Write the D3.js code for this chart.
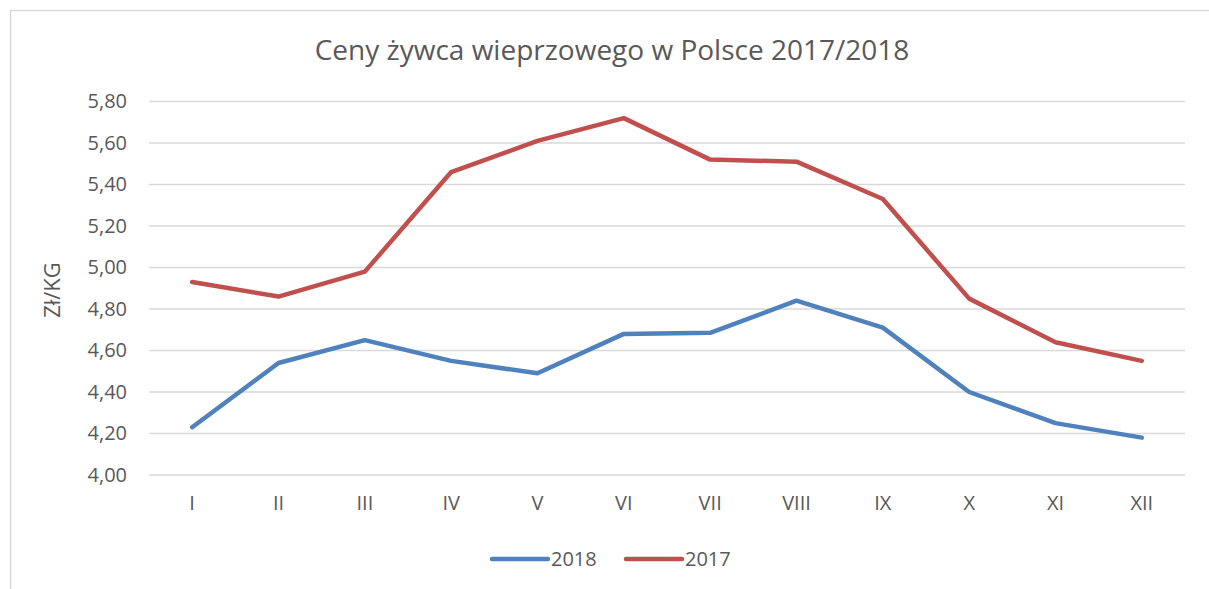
<!DOCTYPE html>
<html>
<head>
<meta charset="utf-8">
<script src="https://cdn.jsdelivr.net/npm/d3@7"></script>
<style>
  body { margin: 0; background: #fff; }
  svg text { font-family: "Open Sans", "Liberation Sans", sans-serif; fill: #595959; }
</style>
</head>
<body>
<div id="chart"></div>
<script>
// data
const months = ["I", "II", "III", "IV", "V", "VI", "VII", "VIII", "IX", "X", "XI", "XII"];
const prices2018 = [4.23, 4.54, 4.65, 4.55, 4.49, 4.68, 4.685, 4.84, 4.71, 4.40, 4.25, 4.18];
const prices2017 = [4.93, 4.86, 4.98, 5.46, 5.61, 5.72, 5.52, 5.51, 5.33, 4.85, 4.64, 4.55];
const yTicks = [4.0, 4.2, 4.4, 4.6, 4.8, 5.0, 5.2, 5.4, 5.6, 5.8];

const series = [
    { name: "2018", values: prices2018, color: "#4F81BD" },
    { name: "2017", values: prices2017, color: "#C0504D" }
];

const W = 1209, H = 589;
const margin = { top: 101.5, right: 24, bottom: 114, left: 149 };
const width = W - margin.left - margin.right;
const height = H - margin.top - margin.bottom;

const svg = d3.select("#chart").append("svg")
    .attr("width", W)
    .attr("height", H);

// chart frame (only top and left edges are visible in the crop)
svg.append("path")
    .attr("d", `M10.5,${H} V10.5 H${W}`)
    .attr("fill", "none")
    .attr("stroke", "#d9d9d9")
    .attr("stroke-width", 1.5);

svg.append("text")
    .attr("x", 612).attr("y", 60)
    .attr("text-anchor", "middle")
    .attr("font-size", 28)
    .text("Ceny żywca wieprzowego w Polsce 2017/2018");

const g = svg.append("g")
    .attr("transform", `translate(${margin.left},${margin.top})`);

const x = d3.scaleBand().domain(months).range([0, width]);
const y = d3.scaleLinear().domain([4.0, 5.8]).range([height, 0]);

// gridlines
g.append("g")
    .selectAll("line")
    .data(yTicks)
    .join("line")
    .attr("x1", 0).attr("x2", width)
    .attr("y1", d => y(d)).attr("y2", d => y(d))
    .attr("stroke", "#d9d9d9")
    .attr("stroke-width", 1.3);

const fmt = d => d.toFixed(2).replace(".", ",");

const yAxis = g.append("g")
    .call(d3.axisLeft(y).tickValues(yTicks).tickFormat(fmt).tickSize(0).tickPadding(22));
yAxis.select(".domain").remove();
yAxis.selectAll("text").attr("font-size", 20).attr("fill", "#595959")
    .style("font-family", "'Open Sans', sans-serif");

const xAxis = g.append("g")
    .attr("transform", `translate(0,${height})`)
    .call(d3.axisBottom(x).tickSize(0).tickPadding(21));
xAxis.select(".domain").remove();
xAxis.selectAll("text").attr("font-size", 20).attr("fill", "#595959")
    .style("font-family", "'Open Sans', sans-serif");

svg.append("text")
    .attr("transform", "translate(60,290) rotate(-90)")
    .attr("text-anchor", "middle")
    .attr("font-size", 22)
    .text("Zł/KG");

const line = d3.line()
    .x((d, i) => x(months[i]) + x.bandwidth() / 2)
    .y(d => y(d));

g.selectAll(".series")
    .data(series)
    .join("path")
    .attr("class", "series")
    .attr("d", d => line(d.values))
    .attr("fill", "none")
    .attr("stroke", d => d.color)
    .attr("stroke-width", 4.5)
    .attr("stroke-linejoin", "round")
    .attr("stroke-linecap", "round");

// legend
const legendX = [492, 626];
const legend = svg.append("g");
series.forEach((s, i) => {
    legend.append("line")
        .attr("x1", legendX[i]).attr("x2", legendX[i] + 56)
        .attr("y1", 559).attr("y2", 559)
        .attr("stroke", s.color)
        .attr("stroke-width", 4.5)
        .attr("stroke-linecap", "round");
    legend.append("text")
        .attr("x", legendX[i] + 59).attr("y", 566)
        .attr("font-size", 20)
        .text(s.name);
});
</script>
</body>
</html>
